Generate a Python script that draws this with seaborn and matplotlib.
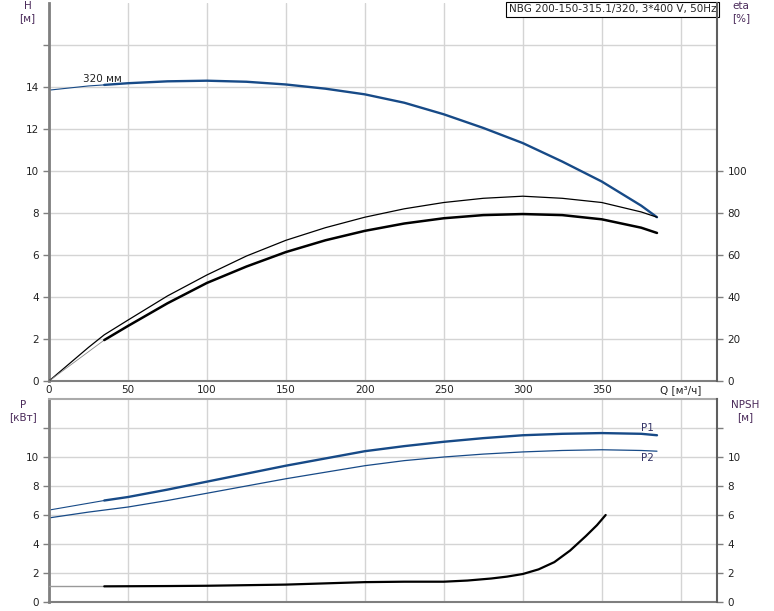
import matplotlib
matplotlib.use('Agg')
import matplotlib.pyplot as plt
import seaborn as sns
import pandas as pd
import numpy as np

# ---- данные ----
h_q = [0, 25, 35, 50, 75, 100, 125, 150, 175, 200, 225, 250, 275, 300, 325, 350, 375, 385]
h_val = [13.85, 14.05, 14.1, 14.18, 14.27, 14.3, 14.25, 14.12, 13.92, 13.65, 13.25, 12.7, 12.05, 11.33, 10.45, 9.5, 8.35, 7.8]

eta1_q = [0, 25, 35, 50, 75, 100, 125, 150, 175, 200, 225, 250, 275, 300, 325, 350, 375, 385]
eta1_val = [0, 16, 22, 29, 40.5, 50.5, 59.5, 67, 73, 78, 82, 85, 87, 88, 87, 85, 80.5, 78]

eta2_q = [0, 35, 50, 75, 100, 125, 150, 175, 200, 225, 250, 275, 300, 325, 350, 375, 385]
eta2_val = [0, 19.5, 26.2, 37, 46.7, 54.5, 61.4, 67, 71.5, 75, 77.5, 79, 79.5, 79, 77, 73, 70.5]

p1_q = [0, 35, 50, 75, 100, 125, 150, 175, 200, 225, 250, 275, 300, 325, 350, 375, 385]
p1_val = [6.34, 7.0, 7.24, 7.75, 8.3, 8.85, 9.4, 9.9, 10.4, 10.75, 11.05, 11.3, 11.5, 11.6, 11.65, 11.6, 11.5]

p2_q = [0, 25, 50, 75, 100, 125, 150, 175, 200, 225, 250, 275, 300, 325, 350, 375, 385]
p2_val = [5.8, 6.2, 6.55, 7.0, 7.5, 8.0, 8.5, 8.95, 9.4, 9.75, 10.0, 10.2, 10.35, 10.45, 10.5, 10.45, 10.4]

npsh_q = [0, 35, 75, 100, 150, 200, 225, 250, 265, 280, 290, 300, 310, 320, 330, 340, 347, 352.5]
npsh_val = [1.08, 1.08, 1.1, 1.12, 1.2, 1.37, 1.4, 1.4, 1.48, 1.62, 1.75, 1.93, 2.25, 2.75, 3.55, 4.55, 5.3, 6.0]

q_ticks = [0, 50, 100, 150, 200, 250, 300, 350, 400]
q_labels = ['0', '50', '100', '150', '200', '250', '300', '350', 'Q [м³/ч]']
title = 'NBG 200-150-315.1/320, 3*400 V, 50Hz'
q_thick = 35  # начало толстой части кривых

BLUE = '#174a87'
GRID = '#d4d4d4'
SPINE = '#7f7f7f'

sns.set_style('white')
plt.rcParams['font.family'] = ['DejaVu Sans']

fig = plt.figure(figsize=(7.74, 6.11), dpi=100)
ax1 = fig.add_axes([49/774, 1-381/611, 668/774, 378/611])
ax2 = fig.add_axes([49/774, 1-602/611, 668/774, 203/611])


def df(q, v):
    return pd.DataFrame({'Q': q, 'v': v})


def thin_thick(ax, q, v, color, lw_thin, lw_thick, thin_color=None):
    d = df(q, v)
    sns.lineplot(data=d[d.Q <= q_thick], x='Q', y='v', ax=ax,
                 color=thin_color or color, linewidth=lw_thin)
    sns.lineplot(data=d[d.Q >= q_thick], x='Q', y='v', ax=ax,
                 color=color, linewidth=lw_thick)


# ---- верхний график: H и КПД ----
ax1r = ax1.twinx()
ax1.set_xlim(0, 423)
ax1.set_ylim(0, 18)
ax1r.set_ylim(0, 180)

thin_thick(ax1, h_q, h_val, BLUE, 0.8, 1.7)
sns.lineplot(data=df(eta1_q, eta1_val), x='Q', y='v', ax=ax1r, color='black', linewidth=0.9)
thin_thick(ax1r, eta2_q, eta2_val, 'black', 0.6, 1.8, thin_color='#888888')

ax1.text(21.5, 14.24, '320 мм', fontsize=7.5, color='#222222', va='baseline', ha='left')
ax1.text(0.999, 0.997, title, transform=ax1.transAxes, ha='right', va='top', fontsize=7.5,
         bbox=dict(boxstyle='square,pad=0.25', fc='white', ec='black', lw=0.8), zorder=5)

ax1.set_xticks(q_ticks)
ax1.set_xticklabels(q_labels)
ax1.set_yticks(range(0, 17, 2))
ax1.set_yticklabels([str(t) for t in range(0, 15, 2)] + [''])
ax1r.set_yticks(range(0, 101, 20))

# ---- нижний график: P и NPSH ----
ax2r = ax2.twinx()
ax2.set_xlim(0, 423)
ax2.set_ylim(0, 14)
ax2r.set_ylim(0, 14)

thin_thick(ax2, p1_q, p1_val, BLUE, 0.8, 1.7)
sns.lineplot(data=df(p2_q, p2_val), x='Q', y='v', ax=ax2, color=BLUE, linewidth=0.9)
thin_thick(ax2r, npsh_q, npsh_val, 'black', 1.0, 1.6, thin_color='#999999')

ax2.text(379, 12.0, 'P1', fontsize=7.5, color='#333366', ha='center', va='center')
ax2.text(379, 9.93, 'P2', fontsize=7.5, color='#333366', ha='center', va='center')

ax2.set_xticks(q_ticks)
ax2.set_xticklabels([])
ax2.set_yticks(range(0, 13, 2))
ax2.set_yticklabels([str(t) for t in range(0, 11, 2)] + [''])
ax2r.set_yticks(range(0, 13, 2))
ax2r.set_yticklabels([str(t) for t in range(0, 11, 2)] + [''])

# ---- оформление ----
for ax in (ax1, ax2):
    ax.grid(True, color=GRID, linewidth=1)
    ax.set_axisbelow(True)
    ax.set_xlabel('')
    ax.set_ylabel('')
    ax.tick_params(axis='x', length=0, labelsize=7.5, pad=3, colors='#222222')
    ax.tick_params(axis='y', length=4, width=1, color=SPINE, labelsize=7.5, labelcolor='#222222')
    ax.spines['left'].set_color(SPINE)
    ax.spines['left'].set_linewidth(2)
    ax.spines['bottom'].set_color(SPINE)
    ax.spines['bottom'].set_linewidth(1.5)
    ax.spines['right'].set_visible(False)

for ax in (ax1r, ax2r):
    ax.set_ylabel('')
    ax.tick_params(axis='y', length=4, width=1, color=SPINE, labelsize=7.5, labelcolor='#222222')
    ax.spines['right'].set_color('#5f5f5f')
    ax.spines['right'].set_linewidth(1.5)
    ax.spines['left'].set_visible(False)
    ax.spines['bottom'].set_visible(False)
    ax.spines['top'].set_visible(False)

ax1.spines['top'].set_visible(False)
ax2.spines['top'].set_color('#aaaaaa')
ax2.spines['top'].set_linewidth(1.5)
ax2r.spines['top'].set_visible(False)

lab = dict(fontsize=7.5, ha='center', va='center', color='#4a2a5a')
fig.text(28/774, 1-6/611, 'H', **lab)
fig.text(27/774, 1-18/611, '[м]', **lab)
fig.text(741/774, 1-6/611, 'eta', **lab)
fig.text(741/774, 1-18/611, '[%]', **lab)
fig.text(23/774, 1-405/611, 'P', **lab)
fig.text(23/774, 1-417/611, '[кВт]', **lab)
fig.text(745/774, 1-405/611, 'NPSH', **lab)
fig.text(745/774, 1-417/611, '[м]', **lab)

fig.savefig('out.png', dpi=100)
